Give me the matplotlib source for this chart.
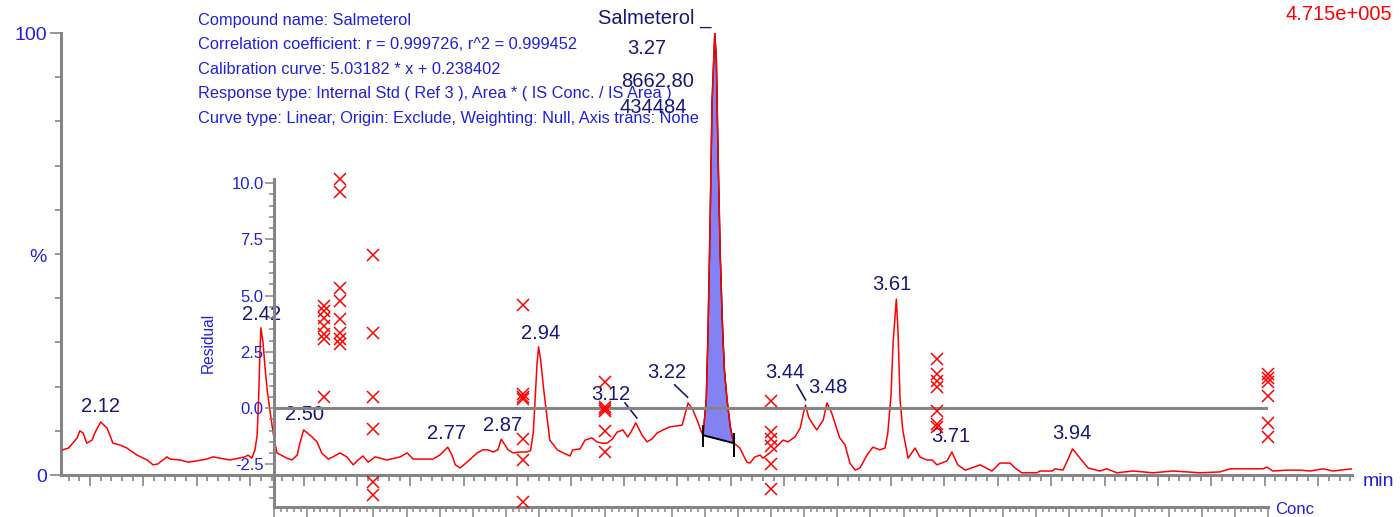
import numpy as np
import matplotlib
matplotlib.use("Agg")
import matplotlib.pyplot as plt
from matplotlib.ticker import MultipleLocator, FixedLocator, NullFormatter, FormatStrFormatter

plt.rcParams["font.family"] = ["Liberation Sans", "DejaVu Sans"]

# ---------------- chromatogram trace (time in min, intensity in %) ----------------
trace_time = [
    2.049, 2.060, 2.076, 2.081, 2.087, 2.094, 2.104, 2.109, 2.120, 2.132,
    2.143, 2.156, 2.169, 2.188, 2.207, 2.218, 2.227, 2.244, 2.250, 2.269,
    2.284, 2.300, 2.319, 2.330, 2.362, 2.390, 2.396, 2.403, 2.409, 2.413,
    2.416, 2.418, 2.420, 2.424, 2.428, 2.432, 2.437, 2.443, 2.450, 2.469,
    2.478, 2.488, 2.493, 2.500, 2.516, 2.525, 2.534, 2.546, 2.555, 2.568,
    2.581, 2.593, 2.602, 2.611, 2.621, 2.634, 2.656, 2.681, 2.694, 2.705,
    2.742, 2.755, 2.770, 2.778, 2.784, 2.793, 2.806, 2.825, 2.836, 2.845,
    2.855, 2.864, 2.870, 2.883, 2.892, 2.905, 2.918, 2.925, 2.930, 2.934,
    2.937, 2.940, 2.944, 2.949, 2.956, 2.961, 2.975, 2.986, 2.999, 3.004,
    3.018, 3.027, 3.040, 3.049, 3.059, 3.068, 3.078, 3.087, 3.098, 3.107,
    3.113, 3.122, 3.134, 3.143, 3.152, 3.162, 3.173, 3.186, 3.199, 3.209,
    3.215, 3.220, 3.225, 3.229, 3.239, 3.244, 3.248, 3.254, 3.257, 3.261,
    3.265, 3.270, 3.273, 3.276, 3.280, 3.284, 3.288, 3.293, 3.299, 3.303,
    3.306, 3.317, 3.330, 3.336, 3.345, 3.355, 3.360, 3.373, 3.383, 3.392,
    3.398, 3.407, 3.420, 3.430, 3.436, 3.440, 3.446, 3.452, 3.461, 3.473,
    3.480, 3.489, 3.504, 3.514, 3.523, 3.533, 3.542, 3.555, 3.566, 3.579,
    3.589, 3.594, 3.600, 3.604, 3.610, 3.613, 3.617, 3.622, 3.632, 3.645,
    3.654, 3.667, 3.677, 3.686, 3.705, 3.714, 3.725, 3.739, 3.767, 3.789,
    3.804, 3.823, 3.832, 3.845, 3.873, 3.879, 3.902, 3.907, 3.922, 3.931,
    3.940, 3.954, 3.969, 3.991, 4.004, 4.023, 4.053, 4.091, 4.128, 4.179,
    4.216, 4.235, 4.297, 4.304, 4.315, 4.341, 4.366, 4.385, 4.409, 4.428,
    4.463,
]
trace_pct = [
    5.7, 6.1, 8.4, 10.0, 9.5, 7.2, 7.9, 9.5, 12.0, 10.6,
    7.2, 6.8, 6.1, 4.5, 3.4, 2.3, 2.5, 4.1, 3.6, 3.4,
    2.9, 3.2, 3.6, 4.1, 3.4, 4.1, 4.5, 3.8, 5.7, 9.0,
    18.0, 27.0, 33.3, 30.0, 24.0, 19.0, 14.5, 9.5, 5.0, 3.8,
    3.4, 4.5, 7.2, 10.2, 8.6, 7.5, 5.0, 3.6, 4.1, 5.0,
    4.1, 2.3, 3.4, 4.3, 2.9, 4.1, 3.4, 4.1, 5.0, 3.6,
    3.6, 4.5, 6.3, 4.5, 2.3, 1.6, 2.9, 5.0, 5.7, 5.7,
    5.2, 5.7, 8.1, 5.7, 5.0, 5.2, 5.2, 5.5, 9.5, 18.0,
    25.0, 29.0, 26.0, 20.0, 13.0, 7.9, 5.7, 5.0, 4.3, 5.7,
    5.9, 7.9, 8.4, 7.5, 7.2, 7.2, 8.1, 9.7, 10.2, 8.6,
    9.7, 11.8, 9.0, 7.5, 8.1, 9.5, 10.2, 10.9, 11.1, 11.3,
    14.0, 16.3, 15.5, 14.7, 11.8, 10.0, 9.0, 17.0, 30.5, 55.4,
    84.8, 100.0, 93.9, 73.5, 50.9, 35.1, 23.8, 17.0, 11.0, 8.5,
    7.2, 6.1, 2.9, 2.7, 4.1, 4.5, 3.8, 5.0, 6.1, 7.2,
    7.9, 7.5, 8.6, 10.6, 14.0, 15.8, 13.0, 11.8, 10.2, 12.4,
    16.3, 14.0, 8.4, 6.8, 2.7, 1.1, 1.6, 4.5, 6.3, 5.7,
    6.1, 9.5, 18.0, 30.0, 39.8, 33.0, 17.0, 10.2, 3.8, 6.1,
    4.1, 3.4, 3.4, 2.3, 3.2, 5.2, 2.3, 1.1, 2.3, 0.9,
    2.7, 2.7, 1.6, 0.5, 0.5, 0.9, 0.9, 1.4, 1.1, 3.4,
    5.9, 3.8, 1.6, 0.9, 1.4, 0.5, 0.9, 0.5, 0.9, 0.5,
    0.7, 1.4, 1.4, 1.8, 0.9, 1.1, 1.1, 0.9, 1.4, 0.9,
    1.4,
]

# labelled retention times and where each label sits (time, %)
peak_rt = [2.12, 2.42, 2.50, 2.77, 2.87, 2.94, 3.12, 3.22, 3.44, 3.48, 3.61, 3.71, 3.94]
label_pos = [
    (2.119, 15.4), (2.422, 36.2), (2.501, 13.8), (2.767, 9.5), (2.873, 11.3),
    (2.943, 32.1), (3.076, 18.3), (3.181, 23.3), (3.401, 23.3), (3.482, 19.7),
    (3.602, 43.0), (3.712, 8.6), (3.939, 9.3),
]
# leader lines from a label to its peak
leaders = {
    3.12: ((3.102, 16.3), (3.124, 12.9)),
    3.22: ((3.195, 20.4), (3.219, 17.6)),
    3.44: ((3.424, 20.4), (3.440, 17.0)),
}

# integrated Salmeterol peak
compound = "Salmeterol"
compound_rt = 3.27
compound_area = 8662.80
compound_height = 434484
full_scale = 4.715e5
integ_start, integ_end = 3.248, 3.306
base_start, base_end = 9.0, 7.2

# ---------------- calibration residuals ----------------
conc_levels = [1.5, 2.0, 3.0, 7.5, 10.0, 15.0, 20.0, 30.0]
residuals = [
    [4.52, 4.30, 4.00, 3.64, 3.27, 3.05, 0.47],
    [10.18, 9.62, 5.34, 4.75, 3.94, 3.35, 3.05, 2.83],
    [6.81, 3.35, 0.47, -0.93, -3.29, -3.88],
    [4.60, 0.62, 0.47, 0.40, -1.37, -2.33, -4.17],
    [1.14, 0.03, -0.05, -0.12, -1.00, -1.96],
    [0.32, -1.08, -1.37, -1.67, -2.48, -3.58],
    [2.20, 1.50, 1.21, 0.92, -0.12, -0.71, -0.85],
    [1.51, 1.33, 1.16, 0.53, -0.67, -1.29],
]

info_lines = [
    "Compound name: Salmeterol",
    "Correlation coefficient: r = 0.999726, r^2 = 0.999452",
    "Calibration curve: 5.03182 * x + 0.238402",
    "Response type: Internal Std ( Ref 3 ), Area * ( IS Conc. / IS Area )",
    "Curve type: Linear, Origin: Exclude, Weighting: Null, Axis trans: None",
]

BLUE = "#2020dc"
NAVY = "#17177a"
RED = "#ff0000"
GREY = "#858585"
FILL = "#8282f5"

fig = plt.figure(figsize=(14, 5.17), dpi=100)

# ---------------- chromatogram axes ----------------
ax = fig.add_axes([61 / 1400, 42 / 517, 1291 / 1400, 442 / 517])
ax.set_xlim(2.0457, 4.4633)
ax.set_ylim(0, 100)
for s in ("top", "right"):
    ax.spines[s].set_visible(False)
for s in ("left", "bottom"):
    ax.spines[s].set_color(GREY)
    ax.spines[s].set_linewidth(2.2)
ax.xaxis.set_major_locator(MultipleLocator(0.1))
ax.xaxis.set_minor_locator(MultipleLocator(0.02))
ax.xaxis.set_major_formatter(NullFormatter())
ax.tick_params(axis="x", which="major", direction="out", length=8, width=1.2, color=GREY)
ax.tick_params(axis="x", which="minor", direction="out", length=4.5, width=1.2, color=GREY)
ax.yaxis.set_major_locator(FixedLocator([0, 100]))
ax.yaxis.set_minor_locator(MultipleLocator(10))
ax.tick_params(axis="y", which="major", direction="out", length=8, width=1.2, color=GREY,
               labelsize=14, labelcolor=BLUE, pad=2)
ax.tick_params(axis="y", which="minor", direction="out", length=4.5, width=1.2, color=GREY)

t = np.array(trace_time)
y = np.array(trace_pct)
m = (t >= integ_start) & (t <= integ_end)
base = np.interp(t[m], [integ_start, integ_end], [base_start, base_end])
ax.fill_between(t[m], base, y[m], color=FILL, lw=0, zorder=2)
ax.plot(t[m], y[m], color="black", lw=1.0, zorder=2.5)
ax.plot(t, y, color=RED, lw=1.1, zorder=3)
ax.plot([integ_start, integ_end], [base_start, base_end], color="black", lw=1.4, zorder=4)
ax.vlines([integ_start], 6.3, 11.3, color="black", lw=1.4, zorder=4)
ax.vlines([integ_end], 4.1, 9.5, color="black", lw=1.4, zorder=4)

for rt, (lx, ly) in zip(peak_rt, label_pos):
    ax.text(lx, ly, f"{rt:.2f}", ha="center", va="center", fontsize=14.5, color=NAVY, zorder=6)
for (p0, p1) in leaders.values():
    ax.plot([p0[0], p1[0]], [p0[1], p1[1]], color=NAVY, lw=1.2, zorder=6)

ax.text(3.158, 103.4, compound + " _", ha="center", va="center", fontsize=14.5,
        color=NAVY, clip_on=False, zorder=6)
ax.text(3.143, 96.4, f"{compound_rt:.2f}", ha="center", va="center", fontsize=14.5,
        color=NAVY, zorder=6)
ax.text(3.162, 89.1, f"{compound_area:.2f}", ha="center", va="center", fontsize=14.5,
        color=NAVY, zorder=6)
ax.text(3.154, 83.2, f"{compound_height:d}", ha="center", va="center", fontsize=14.5,
        color=NAVY, zorder=6)

# ---------------- residual axes ----------------
rax = fig.add_axes([274 / 1400, 10 / 517, 994 / 1400, 328 / 517])
rax.patch.set_alpha(0)
rax.set_xlim(0, 30)
rax.set_ylim(-4.4, 10.18)
for s in ("top", "right"):
    rax.spines[s].set_visible(False)
for s in ("left", "bottom"):
    rax.spines[s].set_color(GREY)
    rax.spines[s].set_linewidth(2.2)
rax.axhline(0, color=GREY, lw=2.2, zorder=1)
rax.xaxis.set_major_locator(MultipleLocator(1))
rax.xaxis.set_minor_locator(MultipleLocator(0.2))
rax.xaxis.set_major_formatter(NullFormatter())
rax.tick_params(axis="x", which="major", direction="out", length=7, width=1.1, color=GREY)
rax.tick_params(axis="x", which="minor", direction="out", length=3.5, width=1.1, color=GREY)
rax.yaxis.set_major_locator(FixedLocator([-2.5, 0, 2.5, 5, 7.5, 10]))
rax.yaxis.set_minor_locator(MultipleLocator(0.5))
rax.yaxis.set_major_formatter(FormatStrFormatter("%.1f"))
rax.tick_params(axis="y", which="major", direction="out", length=6.5, width=1.1, color=GREY,
                labelsize=12, labelcolor=BLUE, pad=1)
rax.tick_params(axis="y", which="minor", direction="out", length=3.5, width=1.1, color=GREY)
rax.set_ylabel("Residual", fontsize=11.2, color=BLUE, labelpad=11)

for c, res in zip(conc_levels, residuals):
    rax.plot([c] * len(res), res, "x", color=RED, ms=8, mew=1.1, clip_on=False, zorder=7)

# ---------------- figure texts ----------------
for i, line in enumerate(info_lines):
    fig.text(198 / 1400, 1 - (20 + 24.5 * i) / 517, line,
             ha="left", va="center", fontsize=11.8, color=BLUE)
fig.text(1392 / 1400, 1 - 15 / 517, f"{full_scale:.3e}".replace("e+05", "e+005"),
         ha="right", va="center", fontsize=14.5, color=RED)
fig.text(38 / 1400, 1 - 257 / 517, "%", ha="center", va="center", fontsize=14, color=BLUE)
fig.text(1363 / 1400, 1 - 481 / 517, "min", ha="left", va="center", fontsize=14, color=BLUE)
fig.text(1275 / 1400, 1 - 510 / 517, "Conc", ha="left", va="center", fontsize=12, color=BLUE)

fig.savefig("out.png", dpi=100)
